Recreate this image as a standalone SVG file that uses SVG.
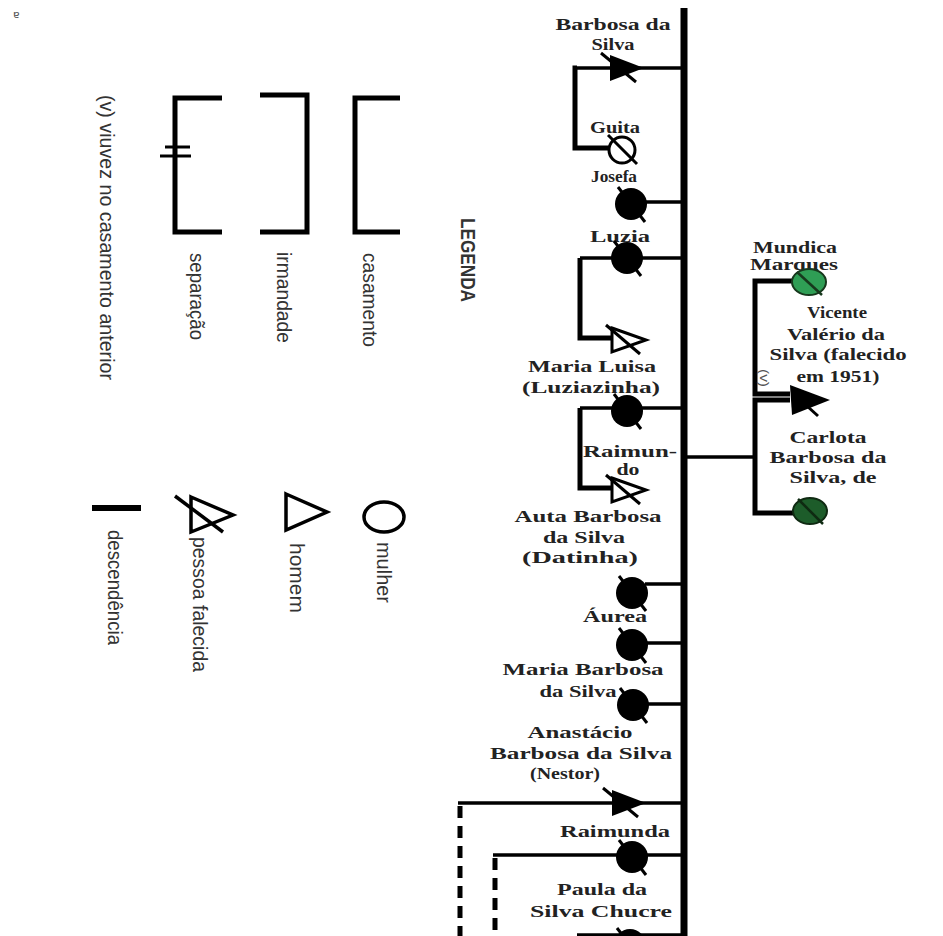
<svg xmlns="http://www.w3.org/2000/svg" width="943" height="936" viewBox="0 0 943 936">
<style>
.lg{font-family:"Liberation Sans",Arial,sans-serif;font-size:21px;fill:#333}
.t{font-family:"Liberation Serif","Times New Roman",serif;font-size:16px;font-weight:bold;fill:#222;text-anchor:middle}
.c{stroke:#000;stroke-width:3.5;fill:none}
.b{stroke:#000;stroke-width:5;fill:none}
.d{stroke:#000;stroke-width:5;fill:none;stroke-dasharray:12 8}
</style>
<defs>
<g id="ftri"><polygon points="0,-13 34,0 0,13" fill="#000"/><line x1="-9" y1="-15" x2="26" y2="14" stroke="#000" stroke-width="3"/></g>
<g id="otri"><polygon points="0,-12 34,0 0,12" fill="none" stroke="#000" stroke-width="3"/><line x1="-6" y1="-15" x2="28" y2="14" stroke="#000" stroke-width="3"/></g>
<g id="fcir"><circle r="16" fill="#000"/><line x1="-13" y1="-17" x2="14" y2="18" stroke="#000" stroke-width="3"/></g>
</defs>
<rect width="943" height="936" fill="#fff"/>
<text x="13" y="18" font-family="DejaVu Sans,sans-serif" font-size="11" fill="#555">ɐ</text>

<g id="legend">
<text class="lg" transform="translate(461,218) rotate(90)" font-weight="bold" font-size="25" fill="#222" textLength="84" lengthAdjust="spacingAndGlyphs">LEGENDA</text>
<g id="leg-casamento">
<path class="b" d="M400,98 H355 V232 H400"/>
<text class="lg" transform="translate(363,253) rotate(90)" textLength="94" lengthAdjust="spacingAndGlyphs">casamento</text>
</g>
<g id="leg-irmandade">
<path class="b" d="M260,95 H307 V232 H260"/>
<text class="lg" transform="translate(277,252) rotate(90)" textLength="91" lengthAdjust="spacingAndGlyphs">irmandade</text>
</g>
<g id="leg-separacao">
<path class="b" d="M222,98 H175 V232 H222"/>
<line x1="165" y1="147" x2="190" y2="147" stroke="#000" stroke-width="3"/>
<line x1="160" y1="156" x2="191" y2="156" stroke="#000" stroke-width="3"/>
<text class="lg" transform="translate(190,253) rotate(90)" textLength="87" lengthAdjust="spacingAndGlyphs">separação</text>
</g>
<text class="lg" transform="translate(100,95) rotate(90)" textLength="285" lengthAdjust="spacingAndGlyphs">(v) viuvez no casamento anterior</text>
<g id="leg-mulher">
<ellipse cx="384" cy="517" rx="20" ry="15" fill="none" stroke="#000" stroke-width="3.5"/>
<text class="lg" transform="translate(377,542) rotate(90)" textLength="61" lengthAdjust="spacingAndGlyphs">mulher</text>
</g>
<g id="leg-homem">
<polygon points="286,494 327,512 286,530" fill="none" stroke="#000" stroke-width="3.5"/>
<text class="lg" transform="translate(290,543) rotate(90)" textLength="70" lengthAdjust="spacingAndGlyphs">homem</text>
</g>
<g id="leg-falecida">
<polygon points="191,497 233,515 191,532" fill="none" stroke="#000" stroke-width="3.5"/>
<line x1="175" y1="496" x2="223" y2="532" stroke="#000" stroke-width="3.5"/>
<text class="lg" transform="translate(193,537) rotate(90)" textLength="135" lengthAdjust="spacingAndGlyphs">pessoa falecida</text>
</g>
<g id="leg-descendencia">
<line x1="92" y1="508" x2="141" y2="508" stroke="#000" stroke-width="6"/>
<text class="lg" transform="translate(108,530) rotate(90)" textLength="115" lengthAdjust="spacingAndGlyphs">descendência</text>
</g>
</g>

<g id="connectors">
<line x1="684" y1="8" x2="684" y2="936" stroke="#000" stroke-width="7"/>
<line class="c" x1="575" y1="68" x2="684" y2="68"/>
<path class="b" d="M577,68 H575 V148 H610"/>
<line class="c" x1="645" y1="202" x2="684" y2="202"/>
<line class="c" x1="580" y1="258" x2="684" y2="258"/>
<path class="b" d="M580,258 V338 H612"/>
<line class="c" x1="580" y1="408" x2="684" y2="408"/>
<path class="b" d="M580,408 V488 H612"/>
<line class="c" x1="684" y1="457" x2="755" y2="457"/>
<path class="b" d="M795,281 H755 V394 H790"/>
<path class="b" d="M790,400 H755 V513 H795"/>
<line class="c" x1="645" y1="584" x2="684" y2="584"/>
<line class="c" x1="645" y1="643" x2="684" y2="643"/>
<line class="c" x1="645" y1="704" x2="684" y2="704"/>
<line class="c" x1="458" y1="803" x2="684" y2="803"/>
<line class="d" x1="460" y1="806" x2="460" y2="936"/>
<line class="c" x1="493" y1="855" x2="684" y2="855"/>
<line class="d" x1="495" y1="858" x2="495" y2="936"/>
<line class="c" x1="577" y1="935" x2="684" y2="935"/>
</g>

<g id="barbosa">
<text class="t" x="613" y="30" textLength="115" lengthAdjust="spacingAndGlyphs">Barbosa da</text>
<text class="t" x="613" y="50" textLength="43" lengthAdjust="spacingAndGlyphs">Silva</text>
<use href="#ftri" x="610" y="68"/>
</g>
<g id="guita">
<text class="t" x="615" y="133" textLength="50" lengthAdjust="spacingAndGlyphs">Guita</text>
<circle cx="622" cy="150" r="13" fill="#fff" stroke="#000" stroke-width="3"/>
<line x1="608" y1="135" x2="637" y2="164" stroke="#000" stroke-width="3"/>
</g>
<g id="josefa">
<text class="t" x="614" y="182" font-weight="normal" textLength="46" lengthAdjust="spacingAndGlyphs">Josefa</text>
<use href="#fcir" x="631" y="204"/>
</g>
<g id="luzia">
<text class="t" x="620" y="242" textLength="60" lengthAdjust="spacingAndGlyphs">Luzia</text>
<use href="#fcir" x="627" y="258"/>
</g>
<g id="maria-luisa">
<use href="#otri" x="612" y="340"/>
<text class="t" x="592" y="372" textLength="128" lengthAdjust="spacingAndGlyphs">Maria Luisa</text>
<text class="t" x="591" y="393" textLength="138" lengthAdjust="spacingAndGlyphs">(Luziazinha)</text>
<use href="#fcir" x="627" y="411"/>
</g>
<g id="raimundo">
<text class="t" x="630" y="457" textLength="94" lengthAdjust="spacingAndGlyphs">Raimun-</text>
<text class="t" x="628" y="475" textLength="23" lengthAdjust="spacingAndGlyphs">do</text>
<use href="#otri" x="612" y="490"/>
</g>
<g id="mundica">
<text class="t" x="795" y="253" font-weight="normal" font-size="15" textLength="84" lengthAdjust="spacingAndGlyphs">Mundica</text>
<text class="t" x="794" y="270" font-weight="normal" font-size="15" textLength="88" lengthAdjust="spacingAndGlyphs">Marques</text>
<ellipse cx="809" cy="282" rx="17" ry="13" fill="#2f9e55" stroke="#17381d" stroke-width="2"/>
<line x1="797" y1="272" x2="822" y2="295" stroke="#17381d" stroke-width="2.5"/>
</g>
<g id="vicente">
<text class="t" x="837" y="318" textLength="60" lengthAdjust="spacingAndGlyphs">Vicente</text>
<text class="t" x="836" y="340" textLength="98" lengthAdjust="spacingAndGlyphs">Valério da</text>
<text class="t" x="838" y="360" textLength="137" lengthAdjust="spacingAndGlyphs">Silva (falecido</text>
<text class="t" x="838" y="382" textLength="83" lengthAdjust="spacingAndGlyphs">em 1951)</text>
<text transform="translate(760,369) rotate(90)" font-family="Liberation Sans,sans-serif" font-size="13" fill="#555" textLength="18" lengthAdjust="spacingAndGlyphs">(v)</text>
<polygon points="790,385 830,400 792,415" fill="#000"/>
<line x1="796" y1="396" x2="818" y2="416" stroke="#000" stroke-width="3"/>
</g>
<g id="carlota">
<text class="t" x="828" y="443" textLength="77" lengthAdjust="spacingAndGlyphs">Carlota</text>
<text class="t" x="828" y="463" textLength="117" lengthAdjust="spacingAndGlyphs">Barbosa da</text>
<text class="t" x="833" y="483" textLength="87" lengthAdjust="spacingAndGlyphs">Silva, de</text>
<ellipse cx="810" cy="511" rx="17" ry="13" fill="#1d5c2a" stroke="#0f2a12" stroke-width="2"/>
<line x1="798" y1="499" x2="823" y2="524" stroke="#0f2a12" stroke-width="2.5"/>
</g>
<g id="auta">
<text class="t" x="588" y="522" textLength="147" lengthAdjust="spacingAndGlyphs">Auta Barbosa</text>
<text class="t" x="584" y="543" textLength="82" lengthAdjust="spacingAndGlyphs">da Silva</text>
<text class="t" x="580" y="563" textLength="116" lengthAdjust="spacingAndGlyphs">(Datinha)</text>
<use href="#fcir" x="632" y="593"/>
</g>
<g id="aurea">
<text class="t" x="615" y="622" textLength="64" lengthAdjust="spacingAndGlyphs">Áurea</text>
<use href="#fcir" x="632" y="645"/>
</g>
<g id="maria-barbosa">
<text class="t" x="583" y="675" textLength="161" lengthAdjust="spacingAndGlyphs">Maria Barbosa</text>
<text class="t" x="578" y="697" textLength="77" lengthAdjust="spacingAndGlyphs">da Silva</text>
<use href="#fcir" x="633" y="705"/>
</g>
<g id="anastacio">
<text class="t" x="580" y="738" textLength="105" lengthAdjust="spacingAndGlyphs">Anastácio</text>
<text class="t" x="581" y="759" textLength="182" lengthAdjust="spacingAndGlyphs">Barbosa da Silva</text>
<text class="t" x="565" y="779" textLength="70" lengthAdjust="spacingAndGlyphs">(Nestor)</text>
<use href="#ftri" x="612" y="803"/>
</g>
<g id="raimunda">
<text class="t" x="615" y="837" textLength="110" lengthAdjust="spacingAndGlyphs">Raimunda</text>
<use href="#fcir" x="632" y="857"/>
</g>
<g id="paula">
<text class="t" x="602" y="895" textLength="90" lengthAdjust="spacingAndGlyphs">Paula da</text>
<text class="t" x="601" y="917" textLength="142" lengthAdjust="spacingAndGlyphs">Silva Chucre</text>
<use href="#fcir" x="630" y="945"/>
</g>
</svg>
